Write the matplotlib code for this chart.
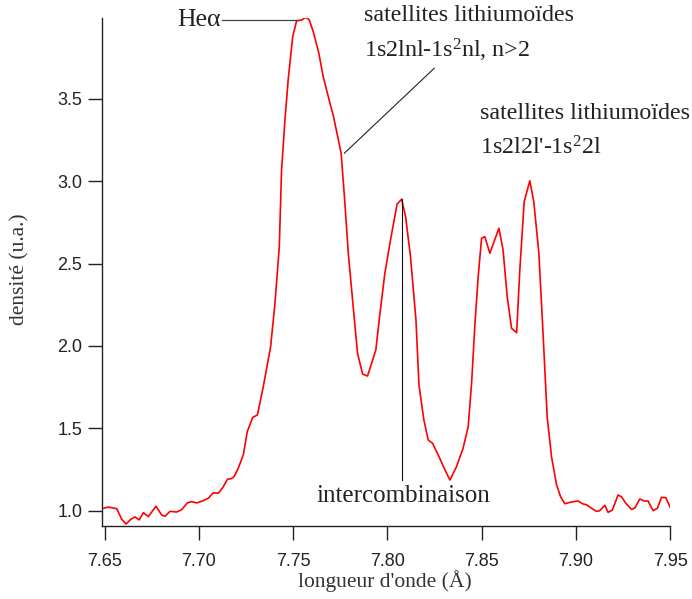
import numpy as np
import matplotlib
matplotlib.use("Agg")
import matplotlib.pyplot as plt

plt.rcParams['mathtext.fontset'] = 'custom'
plt.rcParams['mathtext.rm'] = 'Liberation Serif'
plt.rcParams['mathtext.default'] = 'regular'

# spectre
longueur = [7.6496, 7.6519, 7.6564, 7.6590, 7.6613, 7.6638, 7.6661, 7.6683, 7.6705, 7.6731,
            7.6772, 7.6802, 7.6820, 7.6846, 7.6882, 7.6908, 7.6938, 7.6961, 7.6988, 7.7014,
            7.7049, 7.7076, 7.7102, 7.7126, 7.7151, 7.7170, 7.7186, 7.7208, 7.7235, 7.7256,
            7.7285, 7.7310, 7.7341, 7.7380, 7.7403, 7.7426, 7.7438, 7.7456, 7.7473, 7.7497,
            7.7518, 7.7545, 7.7567, 7.7585, 7.7606, 7.7636, 7.7659, 7.7695, 7.7713, 7.7754,
            7.7774, 7.7792, 7.7818, 7.7841, 7.7868, 7.7894, 7.7938, 7.7960, 7.7986, 7.8016,
            7.8051, 7.8075, 7.8096, 7.8122, 7.8151, 7.8167, 7.8193, 7.8216, 7.8239, 7.8269,
            7.8301, 7.8331, 7.8366, 7.8401, 7.8428, 7.8446, 7.8463, 7.8481, 7.8499, 7.8516,
            7.8543, 7.8591, 7.8613, 7.8635, 7.8658, 7.8685, 7.8702, 7.8725, 7.8755, 7.8776,
            7.8803, 7.8826, 7.8847, 7.8870, 7.8897, 7.8918, 7.8941, 7.8976, 7.9011, 7.9034,
            7.9056, 7.9082, 7.9109, 7.9126, 7.9153, 7.9170, 7.9193, 7.9223, 7.9241, 7.9264,
            7.9294, 7.9312, 7.9338, 7.9361, 7.9382, 7.9409, 7.9432, 7.9453, 7.9476, 7.9501]
densite = [1.015, 1.022, 1.012, 0.948, 0.919, 0.948, 0.962, 0.944, 0.988, 0.964,
           1.027, 0.974, 0.966, 0.996, 0.992, 1.006, 1.047, 1.055, 1.047, 1.057,
           1.075, 1.109, 1.106, 1.140, 1.191, 1.194, 1.206, 1.257, 1.338, 1.479,
           1.566, 1.581, 1.752, 1.995, 2.258, 2.602, 3.067, 3.371, 3.613, 3.876,
           3.973, 3.978, 3.994, 3.978, 3.907, 3.775, 3.633, 3.472, 3.395, 3.169,
           2.867, 2.562, 2.238, 1.955, 1.829, 1.817, 1.975, 2.198, 2.441, 2.643,
           2.861, 2.890, 2.784, 2.541, 2.157, 1.763, 1.550, 1.429, 1.409, 1.338,
           1.257, 1.186, 1.267, 1.379, 1.510, 1.773, 2.117, 2.420, 2.653, 2.663,
           2.562, 2.714, 2.582, 2.299, 2.107, 2.080, 2.461, 2.875, 3.002, 2.875,
           2.562, 2.056, 1.570, 1.328, 1.156, 1.085, 1.042, 1.053, 1.059, 1.042,
           1.036, 1.015, 0.996, 1.000, 1.033, 0.990, 1.004, 1.095, 1.085, 1.045,
           1.008, 1.016, 1.071, 1.059, 1.059, 1.000, 1.015, 1.081, 1.079, 1.018]

xticks = [7.65, 7.70, 7.75, 7.80, 7.85, 7.90, 7.95]
yticks = [1.0, 1.5, 2.0, 2.5, 3.0, 3.5]

serif = 'Liberation Serif'
sans = 'Liberation Sans'

fig = plt.figure(figsize=(6.92, 5.99), dpi=100)
ax = fig.add_axes([0.1478, 0.1224, 0.8208, 0.8476])

ax.plot(longueur, densite, color='#ff0000', lw=1.2)

ax.set_xlim(7.6487, 7.95)
ax.set_ylim(0.909, 3.99)
ax.set_xticks(xticks)
ax.set_xticklabels(['%.2f' % t for t in xticks], fontfamily=sans, fontsize=13)
ax.set_yticks(yticks)
ax.set_yticklabels(['%.1f' % t for t in yticks], fontfamily=sans, fontsize=13)
ax.tick_params(axis='x', length=10, width=1, pad=10, colors='#222222')
ax.tick_params(axis='y', length=10, width=1, pad=4.5, colors='#222222')
for s in ['top', 'right']:
    ax.spines[s].set_visible(False)
for s in ['left', 'bottom']:
    ax.spines[s].set_linewidth(1)
    ax.spines[s].set_color('#222222')

fig.text(0.556, 0.030, "longueur d'onde (Å)", family=serif, fontsize=15.5,
         ha='center', va='center', color='#333333')
fig.text(0.029, 0.551, "densité (u.a.)", family=serif, fontsize=15.5, rotation=90,
         ha='center', va='center', color='#333333')

# annotations
fs = 17.3
ax.plot([7.7123, 7.7526], [3.978, 3.978], color='#444444', lw=0.9, clip_on=False)
ax.text(7.7118, 3.978, 'Heα', family=serif, fontsize=18.5, ha='right', va='center',
        color='#222222')

ax.plot([7.7771, 7.8248], [3.169, 3.685], color='#222222', lw=0.8)
ax.text(7.7875, 4.002, 'satellites lithiumoïdes', family=serif, fontsize=fs,
        ha='left', va='center', color='#222222')
ax.text(7.7875, 3.796, '1s2lnl-1s$^{2}$nl, n>2', family=serif, fontsize=fs,
        ha='left', va='center', color='#222222')

ax.text(7.849, 3.413, 'satellites lithiumoïdes', family=serif, fontsize=fs,
        ha='left', va='center', color='#222222')
ax.text(7.849, 3.200, "1s2l2l'-1s$^{2}$2l", family=serif, fontsize=fs,
        ha='left', va='center', color='#222222')

ax.plot([7.8078, 7.8078], [2.890, 1.186], color='#111111', lw=0.8)
ax.text(7.8082, 1.089, 'intercombinaison', family=serif, fontsize=18,
        ha='center', va='center', color='#222222')

fig.savefig('out.png', dpi=100)
